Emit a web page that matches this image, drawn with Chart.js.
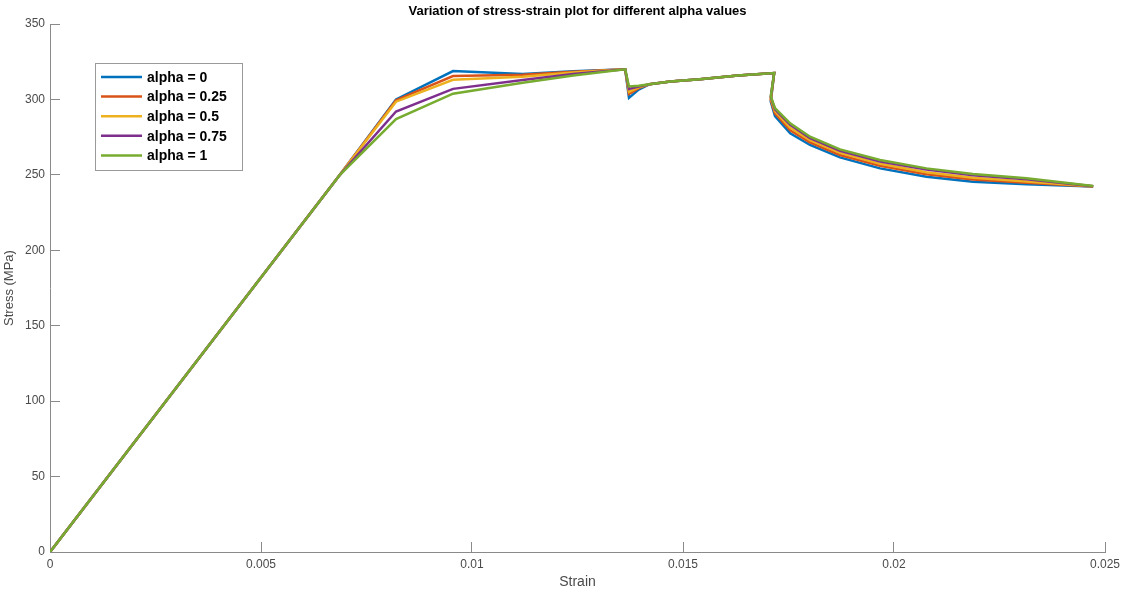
<!DOCTYPE html>
<html lang="en">
<head>
    <meta charset="UTF-8">
    <title>Stress-strain plot</title>
    <script src="https://cdn.jsdelivr.net/npm/chart.js"></script>
    <style>
        body { margin: 0; background: #fff; }
        #chart { display: block; }
    </style>
</head>
<body>
    <canvas id="chart" width="1121" height="595"></canvas>

    <script>
        // Datos
        const strain = [0, 0.00687, 0.0082, 0.00955, 0.0112, 0.0124, 0.01363, 0.01372, 0.01395, 0.0142,
            0.0147, 0.0154, 0.0163, 0.01716, 0.01708, 0.01718, 0.01754, 0.01801, 0.01872, 0.01967,
            0.02077, 0.02187, 0.02314, 0.02472];

        const alphaLabels = ['alpha = 0', 'alpha = 0.25', 'alpha = 0.5', 'alpha = 0.75', 'alpha = 1'];

        const stressA0   = [0, 250, 300, 318.8, 316.9, 318.6, 320, 301, 306.5, 310,
            311.9, 313.4, 315.8, 317.5, 298.5, 289, 277.5, 269.8, 261.6, 254.3, 248.8, 245.5, 243.7, 242.2];
        const stressA025 = [0, 250, 299.5, 315.5, 316.3, 318.3, 320, 303.6, 307.5, 310,
            311.9, 313.4, 315.8, 317.5, 299.5, 290.8, 279.5, 271.5, 263.2, 256, 250.4, 246.9, 244.8, 242.3];
        const stressA05  = [0, 250, 298.5, 313, 315, 317.8, 320, 305, 308, 310,
            311.9, 313.4, 315.8, 317.5, 300.5, 292.3, 281.2, 273, 264.6, 257.3, 251.8, 248.1, 245.6, 242.4];
        const stressA075 = [0, 250, 292, 307, 312.9, 316.8, 320, 307, 308.5, 310,
            311.9, 313.4, 315.8, 317.5, 301.5, 293.5, 283.2, 274.3, 266, 258.9, 253.5, 249.8, 247.1, 242.5];
        const stressA1   = [0, 250, 287, 303.8, 311, 315.8, 320, 308.6, 309, 310,
            311.9, 313.4, 315.8, 317.5, 302, 294.2, 284.2, 275.3, 266.9, 259.8, 254.3, 250.6, 247.7, 242.6];

        const xTicks = [0, 0.005, 0.01, 0.015, 0.02, 0.025];
        const yTicks = [0, 50, 100, 150, 200, 250, 300, 350];

        const colors = ['#0072BD', '#D95319', '#EDB120', '#7E2F8E', '#77AC30'];
        const series = [stressA0, stressA025, stressA05, stressA075, stressA1];

        const axisColor = '#8a8a8a';
        const textColor = '#4a4a4a';
        const fontFamily = '"Liberation Sans", Arial, Helvetica, sans-serif';

        function toPoints(ys) {
            return ys.map((y, i) => ({ x: strain[i], y: y }));
        }

        const datasets = series.map((ys, i) => ({
            label: alphaLabels[i],
            data: toPoints(ys),
            borderColor: colors[i],
            backgroundColor: colors[i],
            borderWidth: 2.5,
            pointRadius: 0,
            tension: 0,
            fill: false,
            order: series.length - i
        }));

        // Leyenda con recuadro dentro del area del grafico (estilo MATLAB)
        const boxLegend = {
            id: 'boxLegend',
            afterDraw(chart) {
                const ctx = chart.ctx;
                const area = chart.chartArea;
                const left = area.left + 45;
                const top = area.top + 39;
                const w = 147, h = 107;
                ctx.save();
                ctx.fillStyle = '#fff';
                ctx.fillRect(left, top, w, h);
                ctx.strokeStyle = '#9a9a9a';
                ctx.lineWidth = 1;
                ctx.strokeRect(left + 0.5, top + 0.5, w, h);
                ctx.font = 'bold 14px ' + fontFamily;
                ctx.textBaseline = 'middle';
                chart.data.datasets.forEach((ds, i) => {
                    const y = top + 14 + i * 19.6;
                    ctx.strokeStyle = ds.borderColor;
                    ctx.lineWidth = 2.5;
                    ctx.beginPath();
                    ctx.moveTo(left + 6, y);
                    ctx.lineTo(left + 47, y);
                    ctx.stroke();
                    ctx.fillStyle = '#000';
                    ctx.fillText(ds.label, left + 52, y + 1);
                });
                ctx.restore();
            }
        };

        const ctx = document.getElementById('chart').getContext('2d');
        const chart = new Chart(ctx, {
            type: 'line',
            data: { datasets: datasets },
            plugins: [boxLegend],
            options: {
                responsive: false,
                animation: false,
                layout: { padding: { left: 0, right: 16, top: 0, bottom: 0 } },
                plugins: {
                    legend: { display: false },
                    tooltip: { enabled: false },
                    title: {
                        display: true,
                        text: 'Variation of stress-strain plot for different alpha values',
                        fullSize: false,
                        color: '#000',
                        font: { family: fontFamily, size: 13, weight: 'bold', lineHeight: 1.2 },
                        padding: { top: 4, bottom: 4.4 }
                    }
                },
                scales: {
                    x: {
                        type: 'linear',
                        min: 0,
                        max: 0.025,
                        afterBuildTicks: (scale) => { scale.ticks = xTicks.map(v => ({ value: v })); },
                        afterFit: (scale) => {
                            scale.height = 43;
                            scale.paddingLeft = 0;
                            scale.paddingRight = 0;
                        },
                        border: { display: true, color: axisColor, width: 1 },
                        grid: { drawOnChartArea: false, drawTicks: true, tickLength: -10, color: axisColor },
                        ticks: {
                            padding: 15,
                            maxRotation: 0,
                            autoSkip: false,
                            color: textColor,
                            font: { family: fontFamily, size: 12 },
                            callback: (v) => String(+Number(v).toFixed(3))
                        },
                        title: {
                            display: true,
                            text: 'Strain',
                            color: textColor,
                            font: { family: fontFamily, size: 14 },
                            padding: { top: 0, bottom: 4 }
                        }
                    },
                    y: {
                        type: 'linear',
                        min: 0,
                        max: 350,
                        afterBuildTicks: (scale) => { scale.ticks = yTicks.map(v => ({ value: v })); },
                        afterFit: (scale) => {
                            scale.width = 50;
                            scale.paddingTop = 0;
                            scale.paddingBottom = 0;
                        },
                        border: { display: true, color: axisColor, width: 1 },
                        grid: { drawOnChartArea: false, drawTicks: true, tickLength: -10, color: axisColor },
                        ticks: {
                            padding: 15,
                            autoSkip: false,
                            color: textColor,
                            font: { family: fontFamily, size: 12 }
                        },
                        title: {
                            display: true,
                            text: 'Stress (MPa)',
                            color: textColor,
                            font: { family: fontFamily, size: 13 },
                            padding: { top: 2, bottom: 0 }
                        }
                    }
                }
            }
        });
    </script>
</body>
</html>
